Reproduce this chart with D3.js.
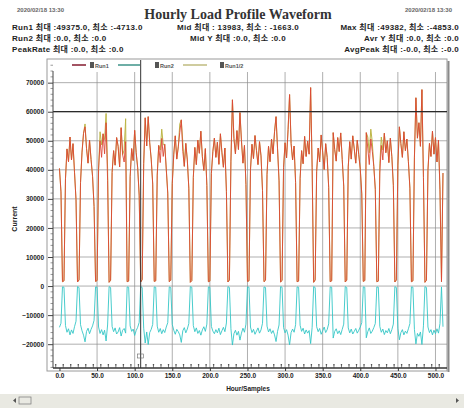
<!DOCTYPE html>
<html><head><meta charset="utf-8">
<script src="https://cdn.jsdelivr.net/npm/d3@7"></script>
<style>
html,body{margin:0;padding:0;background:#fff;}
svg{display:block;font-family:"Liberation Sans","Noto Sans CJK KR",sans-serif;}
</style></head><body>
<svg id="chart" width="464" height="408"></svg>
<script>
// Hourly load samples (current), one value every sampleStep hours
const sampleStep = 2;
const run1 = [40500,32400,1500,1800,36900,47200,42800,51300,43400,49000,39200,29700,1400,2100,35600,46100,52600,54800,47300,42300,
50200,43600,37800,27400,1600,1900,40100,50000,44300,52400,45500,56200,36400,1300,2000,39100,46600,41600,51100,48100,
41000,54500,45200,42700,49700,1500,1700,37600,47300,43200,53600,45900,40700,31300,1400,2200,42100,57900,48200,58300,
49300,43700,35100,1600,1800,38200,48400,42500,50800,44600,48800,40300,32000,1500,2000,35300,45400,51700,43700,47900,
52900,57200,46300,41200,49100,43400,33700,1300,1900,37400,47700,41800,50200,45700,53300,44500,39800,47300,34600,1500,
1700,38700,46400,50900,44300,49500,41900,52400,46100,40900,47500,32600,1400,2100,43000,64100,50800,45500,53500,47000,
59700,50000,42300,48400,34900,1600,1800,39900,48800,43900,51800,46600,41800,49700,44800,32900,1500,2000,38500,48100,
42800,50600,45500,53100,58300,47200,36200,1400,1900,40900,49300,44100,53800,65900,49100,43400,48200,35600,1500,1700,
37100,46600,42100,51500,44600,49900,45400,68300,40700,1300,2100,39400,47500,42700,52000,46100,40100,49000,44300,34000,
1500,1800,52800,47000,43000,51100,46300,52700,43600,34400,1400,2000,41000,49700,43700,51700,47200,42300,50200,45200,
40300,31700,1600,1900,52800,47500,41800,50600,46400,41200,33300,1500,1700,38900,48400,43400,52600,45900,50000,42500,
50900,44500,34700,1400,2100,41600,54800,49000,44300,53100,46600,50600,42800,33700,1500,1800,44100,64800,50900,56200,
48100,67600,37400,1300,2000,39800,49100,44600,53300,45400,51100,42700,50200,33100,1500,38900];
const run2 = [-14200,-12800,-300,-400,-13600,-15900,-14700,-16800,-15100,-16300,-14000,-12100,-200,-500,-13300,-15400,-16900,-19200,-15600,-14500,
-16400,-14900,-13700,-11800,-300,-400,-14100,-16300,-15000,-16800,-15200,-18900,-13400,-200,-500,-13900,-15700,-14400,-16500,-15800,
-14300,-17200,-15200,-14600,-16200,-300,-400,-13700,-15600,-14800,-17000,-15300,-14200,-12500,-200,-500,-14500,-19600,-15800,-20100,
-16000,-14900,-13200,-300,-400,-13800,-15900,-14600,-16400,-15000,-16000,-14100,-12600,-300,-500,-13200,-15200,-16600,-14900,-15700,
-16800,-19400,-15400,-14300,-16100,-14800,-12900,-200,-400,-13600,-15700,-14400,-16300,-15300,-16900,-15100,-14000,-15600,-13100,-300,
-400,-13900,-15500,-16400,-15000,-16100,-14500,-16700,-15400,-14200,-15700,-12700,-200,-500,-14700,-20300,-16400,-15200,-16900,-15600,
-18600,-16200,-14500,-15900,-13100,-300,-400,-14100,-16000,-14900,-16600,-15500,-14400,-16200,-15100,-12800,-300,-500,-13800,-15800,
-14700,-16300,-15300,-16800,-19100,-15600,-13400,-200,-400,-14300,-16100,-15000,-16900,-20200,-16000,-14800,-15900,-13300,-300,-400,
-13500,-15600,-14500,-16500,-15100,-16200,-15300,-19800,-14200,-200,-500,-14000,-15700,-14600,-16600,-15400,-14100,-16000,-15000,-13000,
-300,-400,-17900,-15600,-14700,-16400,-15400,-16700,-14900,-13100,-200,-500,-14400,-16100,-14800,-16500,-15600,-14600,-16200,-15200,
-14100,-12600,-300,-400,-17800,-15700,-14400,-16300,-15500,-14300,-12900,-300,-400,-13900,-15900,-14800,-16700,-15300,-16100,-14600,
-16400,-15000,-13100,-200,-500,-14500,-18500,-16000,-15000,-16800,-15500,-16300,-14700,-12900,-300,-400,-14900,-19900,-16300,-17300,
-15800,-20100,-13700,-200,-500,-14100,-16000,-15000,-16800,-15200,-16400,-14700,-16200,-12900,-300,-14000];
// ratio trace: follows Run1 closely, rising above it on a few days
const run3 = [40500,32400,1500,1800,36900,47200,42800,51300,43400,49000,39200,29700,1400,2100,35600,46100,52600,55800,47300,42300,
50200,43600,37800,27400,1600,1900,40100,53100,48600,52400,50400,59400,40500,1300,2000,39100,46600,41600,51100,48100,
41000,54500,45200,46800,57600,1500,1700,37600,47300,43200,53600,45900,40700,31300,1400,2200,42100,57900,48200,58300,
49300,43700,35100,1600,1800,38200,48400,46800,54000,48600,48800,40300,32000,1500,2000,35300,45400,51700,43700,47900,
55800,57200,49500,41200,49100,43400,33700,1300,1900,37400,47700,41800,50200,45700,53300,44500,39800,47300,34600,1500,
1700,38700,46400,50900,44300,49500,41900,52400,46100,40900,47500,32600,1400,2100,43000,64100,50800,45500,53500,47000,
59700,50000,42300,48400,34900,1600,1800,39900,48800,43900,51800,46600,41800,49700,44800,32900,1500,2000,38500,48100,
42800,50600,45500,53100,58300,47200,36200,1400,1900,40900,49300,44100,53800,65900,49100,43400,48200,35600,1500,1700,
37100,46600,42100,51500,44600,49900,45400,68300,40700,1300,2100,39400,47500,42700,52000,46100,40100,49000,44300,34000,
1500,1800,52800,47000,43000,51100,46300,52700,43600,34400,1400,2000,41000,49700,43700,51700,47200,42300,50200,45200,
40300,31700,1600,1900,52800,51300,45900,54000,49500,41200,33300,1500,1700,42300,51300,46800,52600,45900,50000,42500,
50900,44500,34700,1400,2100,41600,54800,49000,44300,53100,46600,50600,42800,33700,1500,1800,44100,64800,50900,56200,
48100,67600,37400,1300,2000,39800,49100,44600,53300,45400,51100,42700,50200,33100,1500,38900];

const seriesNames = ["Run1", "Run2", "Run1/2"];
const yTicks = [70000, 60000, 50000, 40000, 30000, 20000, 10000, 0, -10000, -20000];
const xTicks = [0, 50, 100, 150, 200, 250, 300, 350, 400, 450, 500];
const limitValue = 60000;
const cursorSample = 108;

const titleText = "Hourly Load Profile Waveform";
const stampLeft = "2020/02/18 13:30";
const stampRight = "2020/02/18 13:30";
const headerLeft = ["Run1 최대 :49375.0, 최소 :-4713.0", "Run2 최대 :0.0, 최소 :0.0", "PeakRate 최대 :0.0, 최소 :0.0"];
const headerMid = ["Mid 최대 : 13983, 최소 : -1663.0", "Mid Y 최대 :0.0, 최소 :0.0"];
const headerRight = ["Max 최대 :49382, 최소 :-4853.0", "Avr Y 최대 :0.0, 최소 :0.0", "AvgPeak 최대 :-0.0, 최소 :-0.0"];
const xTitle = "Hour/Samples";
const yTitle = "Current";

const svg = d3.select("#chart");
const W = 464, H = 408;
const frame = {left: 47, top: 59, right: 447, bottom: 371};
const axisX = 53, axisY = 368;

const x = d3.scaleLinear().domain([-8.6, 514]).range([axisX, 446]);
const y = d3.scaleLinear().domain([-28200, 77800]).range([axisY, 60]);

// header
const hdr = svg.append("g").attr("fill", "#1e1e1e").attr("font-weight", "bold");
hdr.append("text").attr("x", 17).attr("y", 12).attr("font-size", 6).attr("fill", "#666").text(stampLeft);
hdr.append("text").attr("x", 452).attr("y", 12).attr("text-anchor", "end").attr("font-size", 6).attr("fill", "#666").text(stampRight);
hdr.append("text").attr("x", 238).attr("y", 19).attr("text-anchor", "middle")
  .attr("font-family", "'Liberation Serif', serif").attr("font-size", 14).attr("fill", "#333").text(titleText);
const infoStyle = sel => sel.attr("font-size", 8).attr("letter-spacing", 0.3);
headerLeft.forEach((t, i) => hdr.append("text").attr("x", 12).attr("y", 30 + i * 11).call(infoStyle).text(t));
headerMid.forEach((t, i) => hdr.append("text").attr("x", 238).attr("y", 30 + i * 11).attr("text-anchor", "middle").call(infoStyle).text(t));
headerRight.forEach((t, i) => hdr.append("text").attr("x", 459).attr("y", 30 + i * 11).attr("text-anchor", "end").call(infoStyle).text(t));

// plot frame with shadow on the right
svg.append("rect").attr("x", frame.left).attr("y", frame.top)
  .attr("width", frame.right - frame.left).attr("height", frame.bottom - frame.top)
  .attr("fill", "#fff").attr("stroke", "#9a9a9a").attr("stroke-width", 1);
svg.append("line").attr("x1", frame.right + 1.5).attr("x2", frame.right + 1.5)
  .attr("y1", frame.top + 2).attr("y2", frame.bottom + 1).attr("stroke", "#8a8a8a").attr("stroke-width", 2);

// grid
const grid = svg.append("g").attr("stroke", "#8c8c8c").attr("stroke-width", 0.7);
grid.selectAll(".gy").data(yTicks).join("line")
  .attr("x1", axisX).attr("x2", frame.right).attr("y1", d => y(d)).attr("y2", d => y(d));
grid.selectAll(".gx").data(xTicks.slice(1)).join("line")
  .attr("y1", 72).attr("y2", axisY).attr("x1", d => x(d)).attr("x2", d => x(d));

// series
const lineGen = d3.line().x((d, i) => x(i * sampleStep)).y(d => y(d));
const plot = svg.append("g").attr("fill", "none").attr("stroke-linejoin", "round");
plot.append("path").datum(run3).attr("d", lineGen).attr("stroke", "#bdb646").attr("stroke-width", 1);
plot.append("path").datum(run1).attr("d", lineGen).attr("stroke", "#dc4636").attr("stroke-width", 0.9);
plot.append("path").datum(run2).attr("d", lineGen).attr("stroke", "#34c6c6").attr("stroke-width", 0.9);

// limit line and cursor
svg.append("line").attr("x1", axisX).attr("x2", frame.right).attr("y1", y(limitValue)).attr("y2", y(limitValue))
  .attr("stroke", "#2a2a2a").attr("stroke-width", 1.3);
svg.append("line").attr("x1", x(cursorSample)).attr("x2", x(cursorSample)).attr("y1", frame.top + 1).attr("y2", axisY)
  .attr("stroke", "#333").attr("stroke-width", 1);
svg.append("rect").attr("x", x(cursorSample) - 3).attr("y", axisY - 14).attr("width", 6).attr("height", 4)
  .attr("fill", "none").attr("stroke", "#666").attr("stroke-width", 0.6);

// y axis
const yAxis = d3.axisLeft(y).tickValues(yTicks).tickSize(5).tickFormat(d3.format("d"));
const gy = svg.append("g").attr("transform", `translate(${axisX},0)`).call(yAxis);
gy.select(".domain").attr("stroke", "#444").attr("d", `M0,${frame.top + 12}V${axisY}`);
gy.selectAll("text").attr("font-size", 6.5).attr("font-weight", "bold").attr("fill", "#222").attr("dx", "-1px");
gy.selectAll(".tick line").attr("stroke", "#444");
const yMinor = d3.range(-28000, 76001, 2000).filter(v => v % 10000 !== 0);
svg.append("g").selectAll("line").data(yMinor).join("line")
  .attr("x1", axisX - 2.5).attr("x2", axisX).attr("y1", d => y(d)).attr("y2", d => y(d))
  .attr("stroke", "#555").attr("stroke-width", 0.6);

// x axis
const xAxis = d3.axisBottom(x).tickValues(xTicks).tickSize(3).tickFormat(d3.format(".1f"));
const gx = svg.append("g").attr("transform", `translate(0,${axisY})`).call(xAxis);
gx.select(".domain").attr("stroke", "#333").attr("stroke-width", 1.4).attr("d", `M${axisX},0H${frame.right}`);
gx.selectAll("text").attr("font-size", 6.5).attr("font-weight", "bold").attr("fill", "#222").attr("dy", "0.6em");
gx.selectAll(".tick line").attr("stroke", "#333");
const xMinor = d3.range(-5, 512, 10);
const xm = svg.append("g").attr("stroke", "#444").attr("stroke-width", 0.7);
xm.selectAll("line").data(xMinor).join("line")
  .attr("x1", d => x(d)).attr("x2", d => x(d)).attr("y1", axisY - 3).attr("y2", axisY);
xm.selectAll("circle").data(xMinor).join("circle")
  .attr("cx", d => x(d)).attr("cy", axisY - 3.2).attr("r", 0.8).attr("fill", "#444").attr("stroke", "none");

// axis titles
svg.append("text").attr("x", 248).attr("y", 391).attr("text-anchor", "middle")
  .attr("font-size", 6.5).attr("font-weight", "bold").attr("fill", "#222").text(xTitle);
svg.append("text").attr("transform", "translate(17,219) rotate(-90)").attr("text-anchor", "middle")
  .attr("font-size", 7).attr("font-weight", "bold").attr("fill", "#222").text(yTitle);

// legend
const legendColors = ["#8c2a3c", "#4a9a90", "#c4c088"];
const legendPos = [{x1: 72, x2: 86, bx: 90}, {x1: 118, x2: 140, bx: 155}, {x1: 183, x2: 207, bx: 220}];
const lg = svg.append("g");
seriesNames.forEach((name, i) => {
  const p = legendPos[i];
  lg.append("line").attr("x1", p.x1).attr("x2", p.x2).attr("y1", 65).attr("y2", 65)
    .attr("stroke", legendColors[i]).attr("stroke-width", 1.6);
  lg.append("rect").attr("x", p.bx).attr("y", 62).attr("width", 4).attr("height", 6).attr("fill", "#555");
  lg.append("text").attr("x", p.bx + 5).attr("y", 67.5).attr("font-size", 5.5).attr("font-weight", "bold")
    .attr("fill", "#555").text(name);
});

// status bar
svg.append("rect").attr("x", 0).attr("y", 394).attr("width", W).attr("height", 14).attr("fill", "#e9e9e2");
svg.append("path").attr("d", "M13,400.5L16,398V403Z").attr("fill", "#555");
svg.append("rect").attr("x", 19).attr("y", 397).attr("width", 12).attr("height", 7)
  .attr("fill", "none").attr("stroke", "#777").attr("stroke-width", 0.7);
svg.append("path").attr("d", "M459,400.5L456,398V403Z").attr("fill", "#555");
</script>
</body></html>
